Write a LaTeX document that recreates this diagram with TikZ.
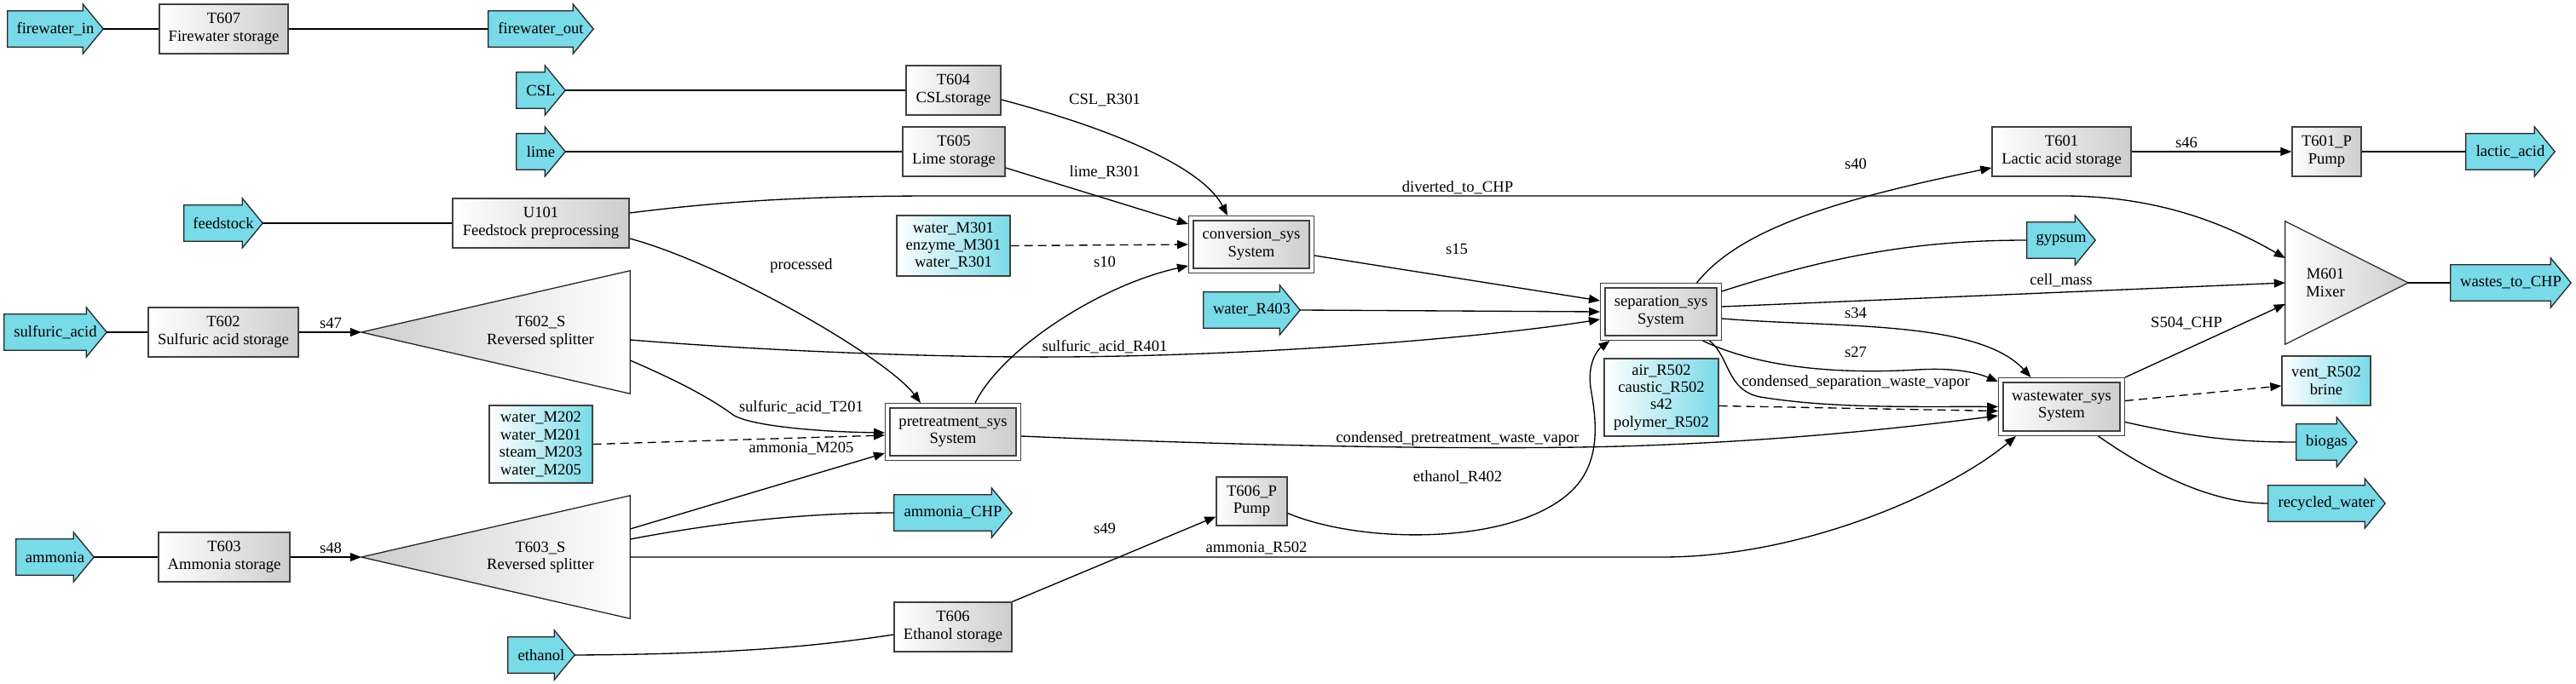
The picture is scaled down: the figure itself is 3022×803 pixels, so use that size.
\documentclass[tikz,border=0pt]{standalone}
\usepackage{fontspec}
\setmainfont{Liberation Serif}
\usepackage{xcolor}
\usepackage{tikz}
\usetikzlibrary{calc}
\usetikzlibrary{arrows.meta}
\usetikzlibrary{backgrounds}
\tikzset{>={Triangle[length=13bp,width=10bp]}}
\definecolor{streamcyan}{HTML}{79DAE8}
\definecolor{unitgray}{HTML}{CDCDCD}
\tikzset{
  unit/.style={draw=black!75,line width=1.3bp,left color=white,right color=unitgray,minimum height=58bp,inner sep=0pt,align=center},
  sys/.style={unit,double=white,double distance=4bp,outer sep=3.3bp,minimum height=61.4bp},
  strm/.style={draw=black!75,line width=1.3bp,left color=white,right color=streamcyan,inner sep=0pt,align=center},
  feed/.style={minimum width=#1,minimum height=42bp,inner sep=0pt,
    append after command={\pgfextra{\begin{pgfinterruptpath}\begin{pgfonlayer}{background}
      \filldraw[fill=streamcyan,draw=black!85,line width=1.3bp]
        (\tikzlastnode.north west) -- ([xshift=-24bp]\tikzlastnode.north east)
        -- ([xshift=-24bp,yshift=8bp]\tikzlastnode.north east) -- (\tikzlastnode.east)
        -- ([xshift=-24bp,yshift=-8bp]\tikzlastnode.south east)
        -- ([xshift=-24bp]\tikzlastnode.south east) -- (\tikzlastnode.south west) -- cycle;
    \end{pgfonlayer}\end{pgfinterruptpath}}}},
  rsplit/.style={minimum width=315bp,minimum height=144bp,inner sep=0pt,
    append after command={\pgfextra{\begin{pgfinterruptpath}\begin{pgfonlayer}{background}
      \shadedraw[left color=unitgray,right color=white,draw=black!85,line width=1.3bp]
        (\tikzlastnode.west) -- (\tikzlastnode.north east) -- (\tikzlastnode.south east) -- cycle;
    \end{pgfonlayer}\end{pgfinterruptpath}}}},
  mixer/.style={minimum width=144bp,minimum height=144bp,inner sep=0pt,
    append after command={\pgfextra{\begin{pgfinterruptpath}\begin{pgfonlayer}{background}
      \shadedraw[left color=white,right color=unitgray,draw=black!85,line width=1.3bp]
        (\tikzlastnode.north west) -- (\tikzlastnode.east) -- (\tikzlastnode.south west) -- cycle;
    \end{pgfonlayer}\end{pgfinterruptpath}}}},
  flow/.style={->,line width=1.33bp},
  dflow/.style={flow,dash pattern=on 10bp off 6bp},
  tie/.style={line width=1.33bp},
  lbl/.style={inner sep=0pt}
}

\begin{document}
\begin{tikzpicture}[x=1bp,y=-1bp,font=\fontsize{18.67}{20.5}\selectfont]
	\useasboundingbox (0,0) rectangle (3022,803);
	\node[feed=112bp] (fwin) at (65,34) {firewater\_in};
	\node[unit,minimum width=151bp] (t607) at (262.5,34) {T607\\Firewater storage};
	\node[feed=123bp] (fwout) at (634.5,34) {firewater\_out};
	\node[feed=57bp] (csl) at (634.5,106) {CSL};
	\node[feed=57bp] (lime) at (634.5,178) {lime};
	\node[unit,minimum width=111bp] (t604) at (1118.5,106) {T604\\CSLstorage};
	\node[unit,minimum width=120bp] (t605) at (1119,178) {T605\\Lime storage};
	\node[feed=92bp] (feedstock) at (262,262) {feedstock};
	\node[unit,minimum width=207bp] (u101) at (634.5,262) {U101\\Feedstock preprocessing};
	\node[feed=120bp] (h2so4) at (65,390) {sulfuric\_acid};
	\node[unit,minimum width=176bp] (t602) at (262,390) {T602\\Sulfuric acid storage};
	\node[rsplit,label={[name=t602s-txt,align=center,xshift=52.5bp]center:{T602\_S\\Reversed splitter}}] (t602s) at (581.5,390) {};
	\node[strm,minimum width=121bp,minimum height=91bp] (wm202) at (634.5,521.5) {water\_M202\\water\_M201\\steam\_M203\\water\_M205};
	\node[feed=91bp] (nh3) at (64.5,654) {ammonia};
	\node[unit,minimum width=154bp] (t603) at (263,654) {T603\\Ammonia storage};
	\node[rsplit,label={[name=t603s-txt,align=center,xshift=52.5bp]center:{T603\_S\\Reversed splitter}}] (t603s) at (581.5,654) {};
	\node[feed=78bp] (etoh) at (635,769) {ethanol};
	\node[strm,minimum width=133bp,minimum height=71bp] (wm301) at (1118.5,288.5) {water\_M301\\enzyme\_M301\\water\_R301};
	\node[sys,minimum width=141.4bp] (conv) at (1468,287) {conversion\_sys\\System};
	\node[sys,minimum width=153.4bp] (pretr) at (1118,507) {pretreatment\_sys\\System};
	\node[feed=113bp] (wr403) at (1468.5,364) {water\_R403};
	\node[feed=138bp] (nh3chp) at (1118,602) {ammonia\_CHP};
	\node[unit,minimum width=83bp,minimum height=57bp] (t606p) at (1468.5,588.5) {T606\_P\\Pump};
	\node[unit,minimum width=138bp] (t606) at (1118,736) {T606\\Ethanol storage};
	\node[sys,minimum width=136.4bp] (sep) at (1948.5,366) {separation\_sys\\System};
	\node[strm,minimum width=134bp,minimum height=91bp] (air) at (1949,466.5) {air\_R502\\caustic\_R502\\s42\\polymer\_R502};
	\node[sys,minimum width=142.4bp,minimum height=62.4bp] (ww) at (2418.5,477.5) {wastewater\_sys\\System};
	\node[unit,minimum width=163bp] (t601) at (2418.5,178) {T601\\Lactic acid storage};
	\node[unit,minimum width=81bp] (t601p) at (2729.5,178) {T601\_P\\Pump};
	\node[feed=104bp] (lactic) at (2945,178) {lactic\_acid};
	\node[feed=80bp] (gypsum) at (2418,282) {gypsum};
	\node[mixer,label={[name=m601-txt,align=center,xshift=-25bp]center:{M601\\Mixer}}] (m601) at (2753,332) {};
	\node[feed=141bp] (wchp) at (2945.5,332) {wastes\_to\_CHP};
	\node[strm,minimum width=104bp,minimum height=58bp] (vent) at (2729,447) {vent\_R502\\brine};
	\node[feed=71bp] (biogas) at (2729.5,519) {biogas};
	\node[feed=137bp] (recyc) at (2729.5,591) {recycled\_water};
	\draw[tie] (fwin.east) -- (t607.west);
	\draw[tie] (t607.east) -- (fwout.west);
	\draw[tie] (csl.east) -- (t604.west);
	\draw[tie] (lime.east) -- (t605.west);
	\draw[tie] (feedstock.east) -- (u101.west);
	\draw[tie] (h2so4.east) -- (t602.west);
	\draw[tie] (nh3.east) -- (t603.west);
	\draw[tie] (etoh.east) .. controls (850,768) and (950,760) .. ([yshift=-9bp]t606.west);
	\draw[flow] (t602.east) -- (t602s.west) node[lbl] (l-s47) at (388,379) {s47};
	\draw[flow] (t603.east) -- (t603s.west) node[lbl] (l-s48) at (388,643) {s48};
	\draw[flow] ([yshift=-11bp]t604.east) .. controls (1300,150) and (1410,195) .. ([xshift=-28bp]conv.north) node[lbl] (l-cslr) at (1296,118) {CSL\_R301};
	\draw[flow] ([yshift=-19bp]t605.east) -- ([yshift=24bp]conv.west) node[lbl] (l-limer) at (1296,202) {lime\_R301};
	\draw[dflow] (wm301.east) -- (conv.west);
	\draw[flow] ([xshift=26bp]pretr.north) .. controls (1175,410) and (1290,335) .. ([yshift=-25bp]conv.west) node[lbl] (l-s10) at (1296,307) {s10};
	\draw[flow] ([yshift=-18bp]u101.east) .. controls (850,310) and (1040,420) .. ([xshift=-38bp]pretr.north) node[lbl] (l-proc) at (940,312) {processed};
	\draw[flow] ([yshift=12bp]u101.east) .. controls (850,236) and (950,230) .. (1100,230) -- (2420,230) .. controls (2530,230) and (2610,262) .. ([yshift=29bp]m601.west) node[lbl] (l-div) at (1710,220) {diverted\_to\_CHP};
	\draw[flow] ([yshift=-9bp]t602s.east) .. controls (900,412) and (1100,420) .. (1250,419) .. controls (1500,417) and (1750,395) .. ([yshift=-9bp]sep.west) node[lbl] (l-sa401) at (1296,407) {sulfuric\_acid\_R401};
	\draw[flow] ([yshift=-33bp]t602s.east) .. controls (790,445) and (830,465) .. (860,487) .. controls (880,500) and (960,507) .. ([yshift=-1bp]pretr.west) node[lbl] (l-sa201) at (940,478) {sulfuric\_acid\_T201};
	\draw[dflow] (wm202.east) -- ([yshift=-4bp]pretr.west);
	\draw[flow] ([yshift=33bp]t603s.east) -- ([yshift=-25bp]pretr.west) node[lbl] (l-nh3m) at (940,527) {ammonia\_M205};
	\draw[tie] ([yshift=21bp]t603s.east) .. controls (850,612) and (950,602) .. (nh3chp.west);
	\draw[flow] (t603s.east) -- (1950,654) .. controls (2120,654) and (2290,575) .. ([xshift=-53.5bp]ww.south) node[lbl] (l-nh3r) at (1474,644) {ammonia\_R502};
	\draw[flow] (t606.north east) -- ([yshift=-18bp]t606p.west) node[lbl] (l-s49) at (1296,620) {s49};
	\draw[flow] ([yshift=-14bp]t606p.east) .. controls (1600,640) and (1780,640) .. (1845,575) .. controls (1880,540) and (1872,490) .. (1866,455) .. controls (1862,425) and (1875,410) .. ([xshift=-60bp]sep.south) node[lbl] (l-etohr) at (1710,560) {ethanol\_R402};
	\draw[flow] ([yshift=-5bp]pretr.east) .. controls (1500,525) and (1750,528) .. (1900,524) .. controls (2100,518) and (2250,500) .. ([yshift=-10.5bp]ww.west) node[lbl] (l-cpwv) at (1710,515) {condensed\_pretreatment\_waste\_vapor};
	\draw[flow] (wr403.east) -- (sep.west);
	\draw[flow] ([yshift=-13bp]conv.east) -- ([yshift=13bp]sep.west) node[lbl] (l-s15) at (1709,292) {s15};
	\draw[flow] ([xshift=42bp]sep.north) .. controls (2040,270) and (2150,235) .. ([yshift=-19bp]t601.west) node[lbl] (l-s40) at (2177,192) {s40};
	\draw[tie] ([yshift=24bp]sep.east) .. controls (2150,300) and (2250,282) .. (gypsum.west);
	\draw[flow] ([yshift=6bp]sep.east) -- (m601.west) node[lbl] (l-cell) at (2418,329) {cell\_mass};
	\draw[flow] ([yshift=-8bp]sep.east) .. controls (2150,385) and (2320,375) .. ([xshift=-36bp]ww.north) node[lbl] (l-s34) at (2177,367) {s34};
	\draw[flow] ([xshift=49bp]sep.south) .. controls (2060,430) and (2150,440) .. (2250,434) .. controls (2300,431) and (2325,440) .. ([yshift=29.5bp]ww.west) node[lbl] (l-s27) at (2177,413) {s27};
	\draw[flow] ([xshift=57bp]sep.south) .. controls (2030,420) and (2025,458) .. (2065,466) .. controls (2150,480) and (2250,477) .. (ww.west) node[lbl] (l-csv) at (2177,449) {condensed\_separation\_waste\_vapor};
	\draw[dflow] ([yshift=-10bp]air.east) -- ([yshift=-5bp]ww.west);
	\draw[flow] (ww.north east) -- ([yshift=-25bp]m601.west) node[lbl] (l-s504) at (2565,380) {S504\_CHP};
	\draw[dflow] ([yshift=7bp]ww.east) -- ([yshift=-6bp]vent.west);
	\draw[tie] ([yshift=-18bp]ww.east) .. controls (2580,515) and (2630,519) .. (biogas.west);
	\draw[tie] ([xshift=43bp]ww.south) .. controls (2530,560) and (2600,591) .. (recyc.west);
	\draw[flow] (t601.east) -- (t601p.west) node[lbl] (l-s46) at (2565,167) {s46};
	\draw[tie] (t601p.east) -- (lactic.west);
	\draw[tie] (m601.east) -- (wchp.west);
\end{tikzpicture}
\end{document}
